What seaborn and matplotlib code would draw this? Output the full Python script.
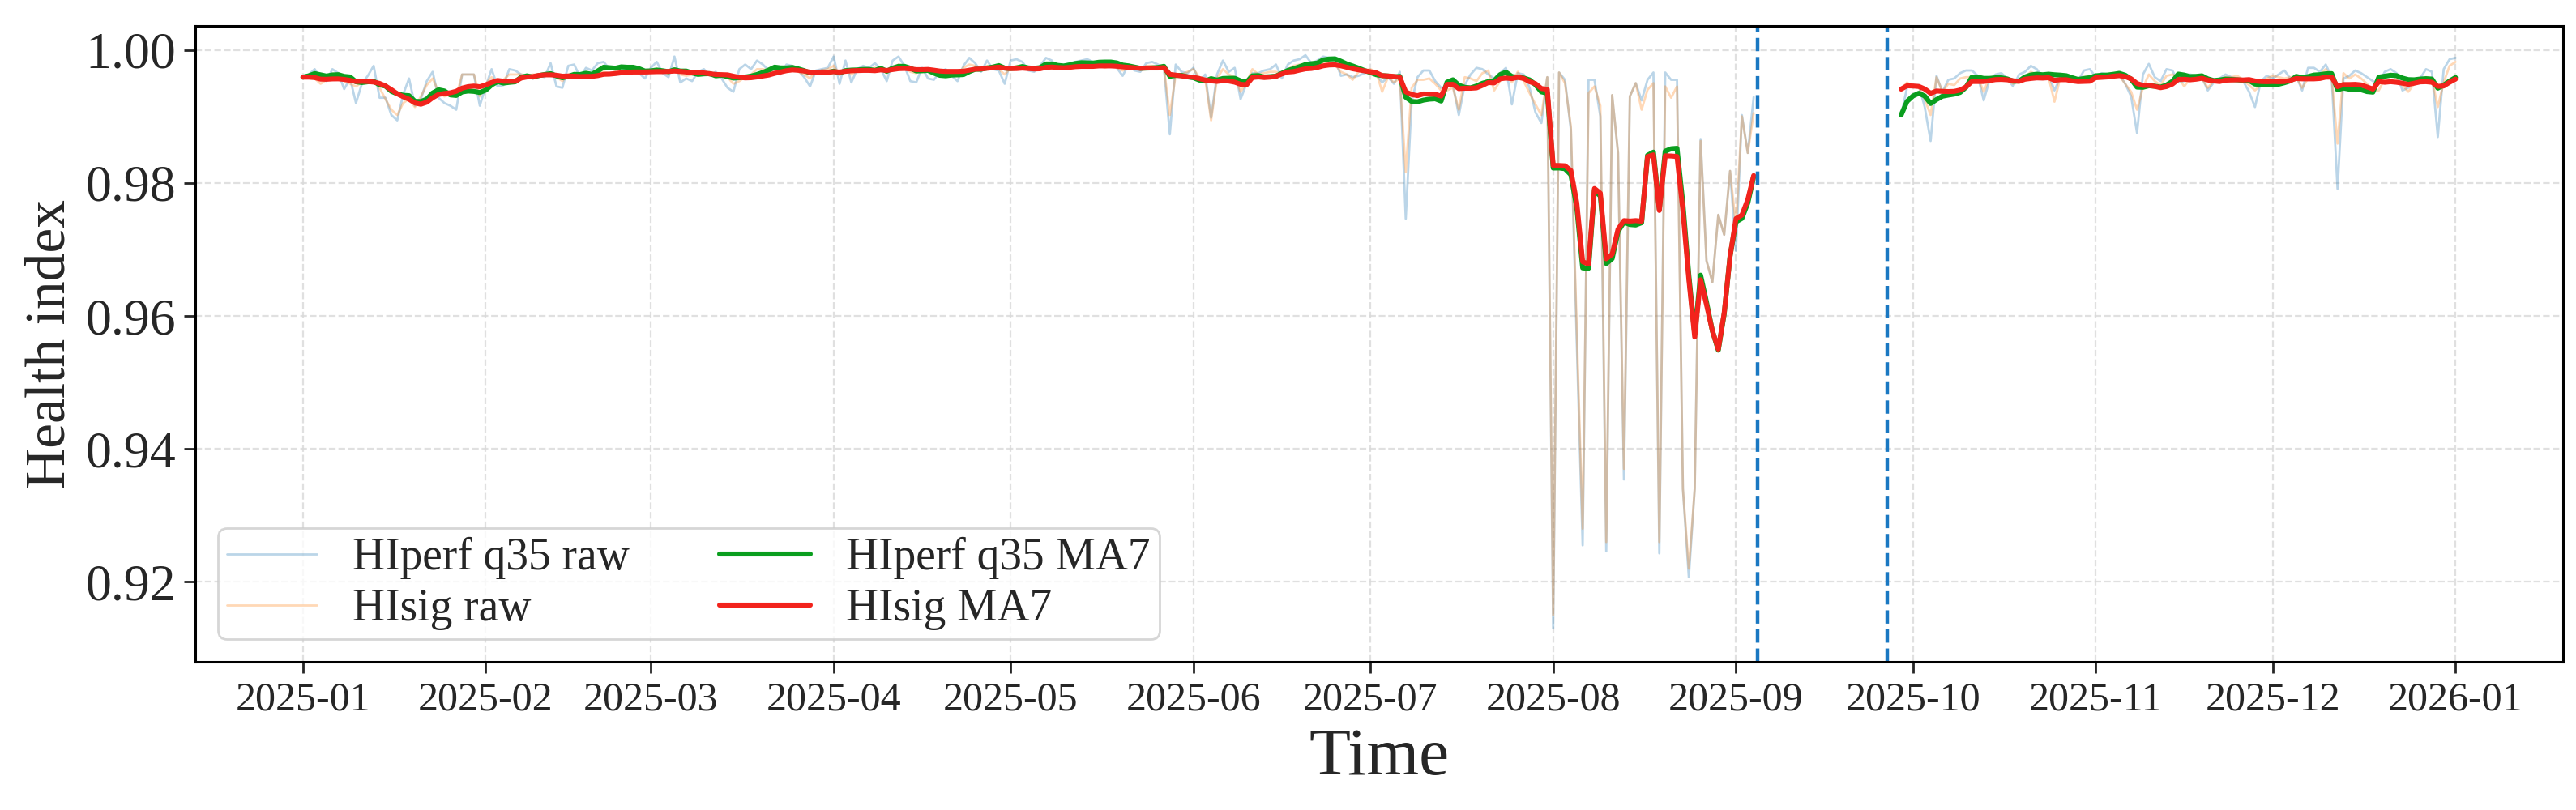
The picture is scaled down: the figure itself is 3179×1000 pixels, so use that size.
import pandas as pd
import seaborn as sns
import matplotlib.pyplot as plt
import matplotlib.dates as mdates

# daily health index, first run 2025-01-01 .. 2025-09-04
seg1_start = "2025-01-01"
hiperf_raw_1 = [
    0.9959, 0.9963, 0.9971, 0.9957, 0.9953, 0.9971, 0.9965, 0.9941, 0.9957, 0.9920,
    0.9949, 0.9961, 0.9976, 0.9928, 0.9928, 0.9902, 0.9894, 0.9933, 0.9957, 0.9916,
    0.9926, 0.9953, 0.9967, 0.9928, 0.9920, 0.9916, 0.9910, 0.9963, 0.9963, 0.9963,
    0.9916, 0.9945, 0.9971, 0.9945, 0.9947, 0.9971, 0.9969, 0.9963, 0.9961, 0.9957,
    0.9961, 0.9959, 0.9980, 0.9945, 0.9943, 0.9976, 0.9978, 0.9959, 0.9973, 0.9969,
    0.9980, 0.9982, 0.9971, 0.9973, 0.9973, 0.9969, 0.9969, 0.9965, 0.9957, 0.9973,
    0.9982, 0.9965, 0.9959, 0.9990, 0.9951, 0.9957, 0.9953, 0.9967, 0.9971, 0.9961,
    0.9967, 0.9957, 0.9943, 0.9937, 0.9971, 0.9978, 0.9971, 0.9984, 0.9978, 0.9969,
    0.9967, 0.9963, 0.9978, 0.9976, 0.9969, 0.9959, 0.9945, 0.9969, 0.9971, 0.9973,
    0.9990, 0.9949, 0.9984, 0.9951, 0.9971, 0.9976, 0.9973, 0.9980, 0.9971, 0.9953,
    0.9984, 0.9990, 0.9976, 0.9953, 0.9951, 0.9973, 0.9957, 0.9955, 0.9967, 0.9971,
    0.9961, 0.9953, 0.9976, 0.9988, 0.9980, 0.9967, 0.9984, 0.9971, 0.9969, 0.9949,
    0.9984, 0.9986, 0.9982, 0.9969, 0.9967, 0.9976, 0.9988, 0.9984, 0.9971, 0.9976,
    0.9980, 0.9982, 0.9984, 0.9986, 0.9982, 0.9980, 0.9978, 0.9980, 0.9973, 0.9961,
    0.9978, 0.9969, 0.9967, 0.9980, 0.9982, 0.9978, 0.9973, 0.9873, 0.9978, 0.9967,
    0.9965, 0.9973, 0.9953, 0.9963, 0.9898, 0.9963, 0.9984, 0.9967, 0.9973, 0.9926,
    0.9949, 0.9965, 0.9965, 0.9969, 0.9971, 0.9978, 0.9957, 0.9978, 0.9984, 0.9986,
    0.9992, 0.9980, 0.9984, 0.9990, 0.9988, 0.9986, 0.9961, 0.9963, 0.9959, 0.9961,
    0.9965, 0.9967, 0.9963, 0.9951, 0.9959, 0.9949, 0.9967, 0.9746, 0.9922, 0.9959,
    0.9969, 0.9969, 0.9953, 0.9943, 0.9945, 0.9947, 0.9902, 0.9947, 0.9963, 0.9973,
    0.9971, 0.9963, 0.9957, 0.9965, 0.9973, 0.9918, 0.9965, 0.9963, 0.9943, 0.9906,
    0.9890, 0.9959, 0.9130, 0.9966, 0.9955, 0.9880, 0.9560, 0.9255, 0.9955, 0.9955,
    0.9900, 0.9246, 0.9932, 0.9845, 0.9354, 0.9930, 0.9950, 0.9924, 0.9955, 0.9966,
    0.9243, 0.9966, 0.9955, 0.9955, 0.9340, 0.9207, 0.9340, 0.9866, 0.9683, 0.9651,
    0.9752, 0.9722, 0.9818, 0.9698, 0.9902, 0.9845, 0.9929,
]
hisig_raw_1 = [
    0.9959, 0.9959, 0.9957, 0.9949, 0.9955, 0.9959, 0.9957, 0.9953, 0.9949, 0.9945,
    0.9951, 0.9953, 0.9953, 0.9943, 0.9926, 0.9910, 0.9902, 0.9920, 0.9926, 0.9914,
    0.9930, 0.9947, 0.9957, 0.9937, 0.9930, 0.9933, 0.9930, 0.9963, 0.9963, 0.9963,
    0.9930, 0.9949, 0.9959, 0.9951, 0.9955, 0.9963, 0.9963, 0.9963, 0.9961, 0.9963,
    0.9963, 0.9961, 0.9963, 0.9959, 0.9953, 0.9963, 0.9961, 0.9959, 0.9963, 0.9963,
    0.9967, 0.9967, 0.9965, 0.9967, 0.9967, 0.9967, 0.9967, 0.9967, 0.9967, 0.9967,
    0.9969, 0.9967, 0.9969, 0.9971, 0.9963, 0.9961, 0.9963, 0.9965, 0.9965, 0.9961,
    0.9963, 0.9961, 0.9959, 0.9949, 0.9953, 0.9959, 0.9963, 0.9971, 0.9971, 0.9969,
    0.9967, 0.9967, 0.9973, 0.9971, 0.9967, 0.9963, 0.9957, 0.9967, 0.9969, 0.9971,
    0.9976, 0.9963, 0.9971, 0.9963, 0.9969, 0.9971, 0.9971, 0.9973, 0.9971, 0.9965,
    0.9973, 0.9978, 0.9973, 0.9967, 0.9965, 0.9971, 0.9967, 0.9965, 0.9969, 0.9969,
    0.9967, 0.9965, 0.9973, 0.9978, 0.9976, 0.9971, 0.9976, 0.9973, 0.9971, 0.9963,
    0.9973, 0.9976, 0.9976, 0.9971, 0.9969, 0.9973, 0.9978, 0.9976, 0.9971, 0.9973,
    0.9976, 0.9976, 0.9976, 0.9978, 0.9976, 0.9976, 0.9973, 0.9976, 0.9973, 0.9969,
    0.9973, 0.9971, 0.9971, 0.9976, 0.9976, 0.9973, 0.9973, 0.9902, 0.9963, 0.9963,
    0.9967, 0.9971, 0.9959, 0.9957, 0.9894, 0.9957, 0.9971, 0.9963, 0.9959, 0.9937,
    0.9951, 0.9971, 0.9963, 0.9965, 0.9967, 0.9967, 0.9963, 0.9971, 0.9976, 0.9978,
    0.9978, 0.9971, 0.9978, 0.9980, 0.9980, 0.9978, 0.9967, 0.9963, 0.9955, 0.9967,
    0.9969, 0.9971, 0.9967, 0.9937, 0.9959, 0.9951, 0.9957, 0.9816, 0.9943, 0.9955,
    0.9955, 0.9957, 0.9949, 0.9939, 0.9939, 0.9943, 0.9910, 0.9959, 0.9957, 0.9953,
    0.9965, 0.9969, 0.9939, 0.9953, 0.9967, 0.9951, 0.9967, 0.9953, 0.9935, 0.9918,
    0.9902, 0.9959, 0.9150, 0.9966, 0.9950, 0.9885, 0.9580, 0.9280, 0.9935, 0.9945,
    0.9916, 0.9260, 0.9932, 0.9845, 0.9370, 0.9930, 0.9950, 0.9910, 0.9940, 0.9950,
    0.9260, 0.9945, 0.9928, 0.9945, 0.9340, 0.9220, 0.9340, 0.9863, 0.9683, 0.9651,
    0.9752, 0.9722, 0.9818, 0.9735, 0.9900, 0.9845, 0.9905,
]

# second run 2025-09-29 .. 2026-01-01
seg2_start = "2025-09-29"
hiperf_raw_2 = [
    0.9902, 0.9943, 0.9947, 0.9947, 0.9914, 0.9863, 0.9961, 0.9937, 0.9955, 0.9957,
    0.9965, 0.9969, 0.9969, 0.9961, 0.9924, 0.9955, 0.9963, 0.9965, 0.9957, 0.9945,
    0.9963, 0.9967, 0.9976, 0.9971, 0.9959, 0.9963, 0.9939, 0.9959, 0.9961, 0.9955,
    0.9953, 0.9969, 0.9971, 0.9959, 0.9965, 0.9963, 0.9963, 0.9963, 0.9949, 0.9930,
    0.9875, 0.9963, 0.9979, 0.9959, 0.9953, 0.9971, 0.9969, 0.9951, 0.9953, 0.9963,
    0.9961, 0.9959,
    0.9939, 0.9951, 0.9957, 0.9963, 0.9959, 0.9957, 0.9953, 0.9937, 0.9914, 0.9953,
    0.9961, 0.9957, 0.9963, 0.9969, 0.9957, 0.9961, 0.9939, 0.9973, 0.9973, 0.9967,
    0.9978, 0.9959, 0.9791, 0.9957, 0.9961, 0.9969, 0.9965, 0.9959, 0.9953, 0.9949,
    0.9967, 0.9971, 0.9965, 0.9939, 0.9943, 0.9951, 0.9957, 0.9971, 0.9967, 0.9869,
    0.9971, 0.9986, 0.9988,
]
hisig_raw_2 = [
    0.9941, 0.9951, 0.9945, 0.9943, 0.9926, 0.9902, 0.9959, 0.9937, 0.9949, 0.9947,
    0.9957, 0.9959, 0.9959, 0.9959, 0.9937, 0.9959, 0.9957, 0.9959, 0.9955, 0.9949,
    0.9953, 0.9959, 0.9967, 0.9963, 0.9957, 0.9959, 0.9922, 0.9959, 0.9959, 0.9955,
    0.9955, 0.9959, 0.9961, 0.9959, 0.9963, 0.9963, 0.9963, 0.9961, 0.9949, 0.9937,
    0.9910, 0.9943, 0.9963, 0.9953, 0.9947, 0.9961, 0.9963, 0.9959, 0.9945, 0.9957,
    0.9959, 0.9957,
    0.9943, 0.9953, 0.9953, 0.9959, 0.9959, 0.9961, 0.9955, 0.9947, 0.9939, 0.9947,
    0.9957, 0.9961, 0.9959, 0.9957, 0.9959, 0.9959, 0.9943, 0.9957, 0.9961, 0.9963,
    0.9971, 0.9959, 0.9859, 0.9965, 0.9957, 0.9963, 0.9957, 0.9949, 0.9937, 0.9939,
    0.9957, 0.9963, 0.9957, 0.9947, 0.9937, 0.9949, 0.9953, 0.9959, 0.9957, 0.9914,
    0.9951, 0.9976, 0.9982,
]

# data gap markers
gap_marks = ["2025-09-04 17:00", "2025-09-26 14:00"]


def make_segment(start, perf, sig, seg_id):
    seg = pd.DataFrame({
        "date": pd.date_range(start, periods=len(perf), freq="D"),
        "perf_raw": perf,
        "sig_raw": sig,
    })
    # 7-day moving average within each run
    seg["perf_ma7"] = seg["perf_raw"].rolling(7, min_periods=1).mean()
    seg["sig_ma7"] = seg["sig_raw"].rolling(7, min_periods=1).mean()
    seg["seg"] = seg_id
    return seg


df = pd.concat([
    make_segment(seg1_start, hiperf_raw_1, hisig_raw_1, 1),
    make_segment(seg2_start, hiperf_raw_2, hisig_raw_2, 2),
], ignore_index=True)

sns.set_style("white")
plt.rcParams["font.family"] = ["Liberation Serif", "DejaVu Serif"]

fig, ax = plt.subplots(figsize=(15.895, 5), dpi=200)
fig.subplots_adjust(left=0.0758, right=0.995, bottom=0.183, top=0.968)

series = [
    ("perf_raw", "HIperf q35 raw", "tab:blue", 1.0, 0.3),
    ("sig_raw", "HIsig raw", "tab:orange", 1.0, 0.3),
    ("perf_ma7", "HIperf q35 MA7", "#0a9e1e", 2.2, 1.0),
    ("sig_ma7", "HIsig MA7", "#f2231c", 2.2, 1.0),
]
for col, label, color, lw, alpha in series:
    sns.lineplot(data=df, x="date", y=col, units="seg", estimator=None,
                 color=color, lw=lw, alpha=alpha, label=label, ax=ax, legend=False)

for d in gap_marks:
    ax.axvline(pd.Timestamp(d), color="#1a78c2", ls="--", lw=1.6)

ax.set_ylim(0.908, 1.0036)
ax.set_yticks([0.92, 0.94, 0.96, 0.98, 1.00])
ax.yaxis.set_major_formatter(plt.FormatStrFormatter("%.2f"))
ax.xaxis.set_major_locator(mdates.MonthLocator())
ax.xaxis.set_major_formatter(mdates.DateFormatter("%Y-%m"))

ax.grid(True, ls="--", lw=0.8, color="#d9d9d9", alpha=0.8)
ax.tick_params(axis="x", labelsize=18, length=5, width=1, direction="out", bottom=True)
ax.tick_params(axis="y", labelsize=23, length=5, width=1, direction="out", left=True)
for sp in ax.spines.values():
    sp.set_color("black")
    sp.set_linewidth(1.1)

ax.set_xlabel("Time", fontsize=30)
ax.set_ylabel("Health index", fontsize=25)

handles, labels = ax.get_legend_handles_labels()
uniq = dict(zip(labels, handles))
ax.legend(uniq.values(), uniq.keys(), loc="lower left", ncol=2, fontsize=20,
          labelspacing=0.2, borderpad=0.2)

fig.savefig("out.png", dpi=200)
